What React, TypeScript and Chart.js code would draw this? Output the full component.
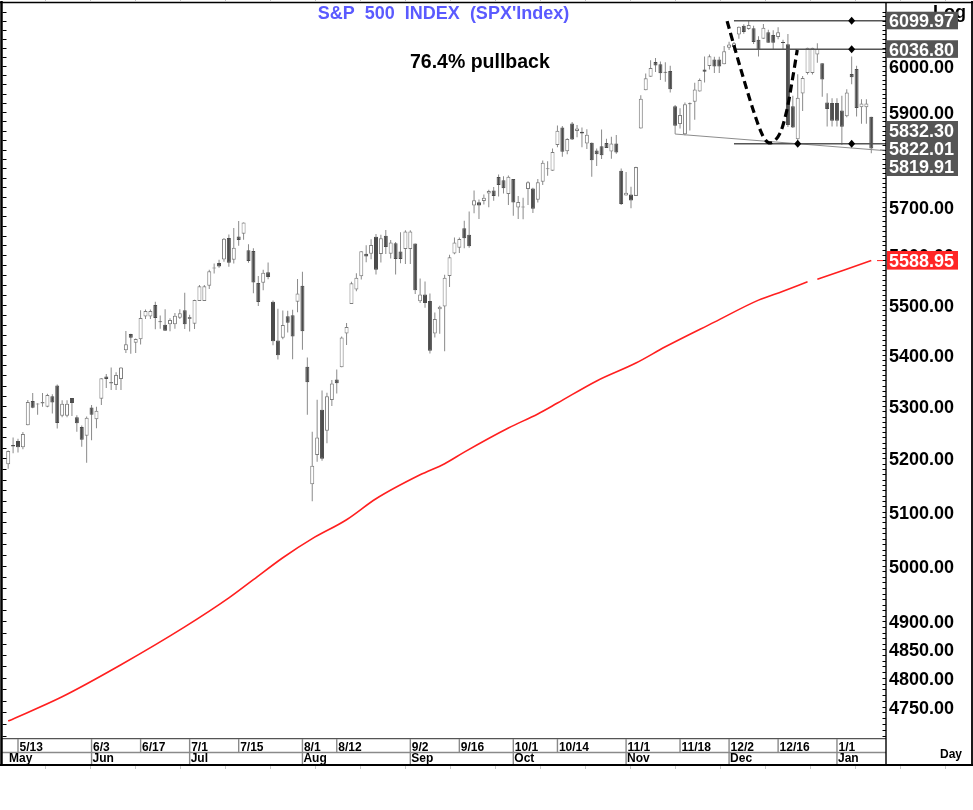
import React, { useEffect, useRef } from 'react';
import { Chart, registerables } from 'chart.js';

Chart.register(...registerables);

const W = 973;
const H = 810;
const FONT = '"Liberation Sans", Arial, Helvetica, sans-serif';

// Every weekday from 9 May 2024 to 10 Jan 2025 (holiday slots repeat the prior candle, as drawn)
const firstSession = new Date(2024, 4, 9);

const opens = [
  5189.0, 5225.5, 5233.1, 5221.1, 5263.3, 5310.1, 5303.1, 5305.4, 5298.7, 5319.3, 5340.3, 5281.5, 5281.5, 5315.9, 5278.7, 5259.8, 5243.2,
  5297.2, 5275.0, 5314.5, 5357.8, 5343.8, 5341.2, 5353.0, 5409.1, 5441.1, 5424.1, 5431.1, 5476.2, 5476.2, 5499.0, 5466.8, 5459.6, 5460.7, 5460.7, 5473.6, 5488.5,
  5471.1, 5461.8, 5507.4, 5507.4, 5537.9, 5572.8, 5584.2, 5591.3, 5635.2, 5590.8, 5638.2, 5644.1, 5610.1, 5608.6, 5543.4, 5544.1, 5565.3, 5505.8, 5428.7, 5433.7, 5476.6, 5478.7, 5505.6,
  5537.8, 5376.6, 5151.1, 5206.4, 5293.1, 5252.6, 5312.0, 5351.9, 5376.0, 5442.1, 5501.3, 5530.5, 5557.2, 5602.9, 5603.1, 5637.8, 5602.6, 5639.7, 5602.9, 5624.5, 5607.3, 5612.7,
  5612.7, 5623.9, 5506.7, 5520.1, 5507.3, 5442.1, 5490.5, 5496.4, 5557.5, 5603.3, 5615.2, 5655.5, 5641.7, 5702.6, 5709.0, 5711.9, 5727.2, 5733.6, 5762.2, 5755.4, 5726.5,
  5757.7, 5698.0, 5698.2, 5737.0, 5737.8, 5714.6, 5751.8, 5778.4, 5775.1, 5829.8, 5866.7, 5816.6, 5875.6, 5859.4, 5857.8, 5832.7, 5834.5, 5817.8, 5826.8, 5833.9, 5816.0, 5832.7, 5775.3,
  5723.2, 5725.2, 5722.4, 5864.9, 5947.2, 5976.8, 6008.9, 6003.6, 5985.8, 5989.0, 5912.8, 5874.2, 5852.7, 5917.3, 5922.1, 5944.4, 5992.3, 6000.0, 6014.1, 6014.1, 6004.0,
  6040.1, 6042.0, 6069.4, 6089.0, 6081.4, 6083.0, 6057.6, 6060.2, 6074.3, 6068.2, 6063.8, 6052.6, 6047.7, 5912.7, 5842.0, 5940.3, 5984.7, 5984.7, 6025.0, 6006.2, 5920.7, 5919.7,
  5919.7, 5903.3, 5891.1, 5982.8, 5993.3, 5910.7, 5910.7, 5890.0,
];

const highs = [
  5215.0, 5239.7, 5237.3, 5250.4, 5311.8, 5325.5, 5305.5, 5325.3, 5324.3, 5323.2, 5341.9, 5311.6, 5311.6, 5315.9, 5282.3, 5263.0, 5280.3,
  5302.1, 5298.8, 5354.2, 5362.4, 5375.1, 5365.8, 5375.9, 5447.3, 5441.9, 5432.4, 5488.5, 5490.4, 5490.4, 5505.5, 5478.3, 5490.8, 5472.9, 5483.1, 5490.8, 5523.6,
  5479.6, 5509.7, 5539.3, 5539.3, 5570.3, 5583.1, 5590.8, 5635.4, 5642.5, 5655.6, 5670.4, 5667.3, 5622.5, 5614.1, 5557.5, 5570.3, 5585.3, 5508.0, 5491.6, 5488.4, 5487.7, 5489.5, 5551.4,
  5566.2, 5395.0, 5250.9, 5312.3, 5330.6, 5326.1, 5351.0, 5371.2, 5436.5, 5463.2, 5546.2, 5563.1, 5608.3, 5620.5, 5632.7, 5643.2, 5641.8, 5651.6, 5631.2, 5627.0, 5646.9, 5651.4,
  5651.4, 5623.9, 5552.7, 5546.3, 5522.5, 5484.2, 5497.9, 5560.4, 5600.7, 5636.3, 5636.1, 5670.8, 5689.8, 5733.6, 5715.1, 5725.4, 5735.3, 5741.0, 5767.4, 5763.8, 5765.1,
  5757.7, 5722.4, 5718.8, 5753.0, 5739.3, 5757.6, 5796.8, 5795.0, 5822.1, 5871.4, 5870.4, 5844.0, 5878.5, 5872.2, 5866.9, 5863.0, 5834.9, 5822.1, 5862.8, 5842.9, 5847.2, 5850.9, 5780.0,
  5772.5, 5741.4, 5783.4, 5936.1, 5983.8, 6012.5, 6017.3, 6009.9, 6008.2, 6000.6, 5915.3, 5908.1, 5920.7, 5920.7, 5963.4, 5972.9, 6020.8, 6025.4, 6020.2, 6020.2, 6044.2,
  6053.6, 6052.7, 6087.2, 6092.0, 6099.97, 6088.5, 6065.4, 6092.6, 6079.7, 6078.6, 6085.2, 6057.7, 6070.7, 5935.5, 5982.1, 5978.3, 6040.1, 6040.1, 6049.8, 6006.2, 5940.8, 5929.7,
  5929.7, 5935.1, 5949.3, 6021.0, 6000.7, 5927.9, 5927.9, 5890.0,
];

const lows = [
  5180.4, 5209.7, 5211.2, 5217.2, 5263.3, 5296.2, 5283.6, 5298.9, 5297.9, 5286.0, 5256.9, 5278.4, 5278.4, 5280.9, 5250.6, 5222.1, 5191.7,
  5234.3, 5257.6, 5302.4, 5335.4, 5331.3, 5331.5, 5331.3, 5403.7, 5402.5, 5403.8, 5420.4, 5471.3, 5471.3, 5451.0, 5452.0, 5447.6, 5446.6, 5451.9, 5471.3, 5451.1,
  5446.5, 5451.1, 5507.4, 5507.4, 5531.6, 5562.5, 5574.6, 5586.4, 5576.5, 5583.1, 5619.5, 5631.6, 5584.8, 5522.8, 5497.0, 5529.0, 5550.9, 5419.0, 5390.9, 5430.7, 5444.4, 5391.4, 5484.7,
  5410.4, 5283.4, 5119.3, 5193.6, 5195.5, 5228.6, 5300.1, 5324.4, 5376.0, 5419.7, 5501.3, 5526.6, 5550.7, 5585.5, 5591.6, 5560.9, 5585.2, 5602.3, 5593.5, 5560.9, 5583.7, 5581.8,
  5581.8, 5521.5, 5503.4, 5493.8, 5402.6, 5434.5, 5441.7, 5407.0, 5535.5, 5601.9, 5604.5, 5614.1, 5615.1, 5686.4, 5674.5, 5704.6, 5698.8, 5712.1, 5721.0, 5727.3, 5703.5,
  5681.3, 5674.5, 5673.8, 5703.5, 5686.9, 5708.4, 5745.0, 5764.8, 5775.1, 5824.8, 5804.5, 5809.9, 5840.3, 5846.1, 5824.8, 5821.2, 5762.4, 5784.9, 5800.0, 5823.1, 5800.6, 5811.3, 5703.2,
  5723.2, 5696.5, 5722.1, 5864.9, 5947.2, 5976.8, 5986.7, 5969.3, 5965.9, 5942.5, 5853.0, 5865.0, 5850.5, 5860.4, 5883.5, 5944.4, 5963.9, 5992.3, 5984.9, 5984.9, 6004.0,
  6035.3, 6033.4, 6060.0, 6070.9, 6080.0, 6048.6, 6020.8, 6060.2, 6051.3, 6035.8, 6059.1, 6035.2, 5867.8, 5866.1, 5832.3, 5902.6, 5981.4, 5981.4, 6007.4, 5933.0, 5869.2, 5868.9,
  5868.9, 5829.5, 5888.7, 5960.0, 5890.7, 5874.8, 5874.8, 5812.0,
];

const closes = [
  5214.1, 5222.7, 5221.4, 5246.7, 5308.2, 5297.1, 5303.3, 5308.1, 5321.4, 5307.0, 5267.8, 5304.7, 5304.7, 5306.0, 5267.0, 5235.5, 5277.5,
  5283.4, 5291.3, 5354.0, 5353.0, 5347.0, 5360.8, 5375.3, 5421.0, 5433.7, 5431.6, 5473.2, 5487.0, 5487.0, 5473.2, 5464.6, 5447.9, 5469.3, 5477.9, 5482.9, 5460.5,
  5475.1, 5509.0, 5537.0, 5537.0, 5567.2, 5572.9, 5577.0, 5633.9, 5584.5, 5615.4, 5631.2, 5667.2, 5588.3, 5544.6, 5505.0, 5564.4, 5555.7, 5427.1, 5399.2, 5459.1, 5463.5, 5436.4, 5522.3,
  5446.7, 5346.6, 5186.3, 5240.0, 5199.5, 5319.3, 5344.2, 5344.4, 5434.4, 5455.2, 5543.2, 5554.3, 5608.3, 5597.1, 5620.9, 5570.6, 5634.6, 5616.8, 5625.8, 5592.2, 5592.0, 5648.4,
  5648.4, 5528.9, 5520.1, 5503.4, 5408.4, 5471.1, 5495.5, 5554.1, 5595.8, 5626.0, 5633.1, 5634.6, 5618.3, 5713.6, 5702.6, 5718.6, 5732.9, 5722.3, 5745.4, 5738.2, 5762.5,
  5708.8, 5709.5, 5699.9, 5751.1, 5695.9, 5751.1, 5792.0, 5780.1, 5815.0, 5859.9, 5815.3, 5842.5, 5841.5, 5864.7, 5854.0, 5851.2, 5797.4, 5809.9, 5808.1, 5823.5, 5833.0, 5813.7, 5705.5,
  5728.8, 5712.7, 5782.8, 5929.0, 5973.1, 5995.5, 6001.4, 5984.0, 5985.4, 5949.2, 5870.6, 5893.6, 5917.0, 5917.1, 5948.7, 5969.3, 5987.4, 6021.6, 5998.7, 5998.7, 6032.4,
  6047.2, 6049.9, 6086.5, 6075.1, 6090.3, 6052.9, 6034.9, 6084.2, 6051.3, 6051.1, 6074.1, 6050.6, 5872.2, 5867.1, 5930.9, 5974.1, 6040.0, 6040.0, 6037.6, 5970.8, 5906.9, 5881.6,
  5881.6, 5868.6, 5942.5, 5975.4, 5909.0, 5918.3, 5918.3, 5822.0,
];

// 200-day moving average (red); null = gap at 12/25
const maSlots = [0, 11, 23, 36, 45, 50, 56, 62, 69, 75, 84, 89, 93, 102, 108, 112, 120, 128, 134, 144, 153, 158, 163, 164, 165, 176];
const maValues = [4725, 4767, 4823, 4890, 4942, 4975, 5015, 5050, 5085, 5124, 5169, 5190, 5212, 5258, 5285, 5306, 5349, 5384, 5416, 5465, 5509, 5527, 5546, null, 5551, 5588.95];

const priceTicks = [4750, 4800, 4850, 4900, 5000, 5100, 5200, 5300, 5400, 5500, 5600, 5700, 5800, 5900, 6000];
const dateTickLabels = ['5/13', '6/3', '6/17', '7/1', '7/15', '8/1', '8/12', '9/2', '9/16', '10/1', '10/14', '11/1', '11/18', '12/2', '12/16', '1/1'];
const monthLabels = ['May', 'Jun', 'Jul', 'Aug', 'Sep', 'Oct', 'Nov', 'Dec', 'Jan'];
const monthStartDates = ['', '6/3', '7/1', '8/1', '9/2', '10/1', '11/1', '12/2', '1/1'];

// Annotations
const levelValues = [6099.97, 6036.8, 5832.3];
const levelStartDate = '12/3';
const levelMarkerDates = [['1/6'], ['1/6'], ['12/20', '1/6']];
const trendDates = ['11/15', '1/10'];
const trendValues = [5853.0, 5819.91];
const cupSlots = [146.6, 149.2, 151.9, 153.9, 155.5, 157.4, 158.8, 159.8, 160.9];
const cupValues = [6099, 6000, 5905, 5849, 5834, 5855, 5905, 5963, 6035];
const stackLabels = ['5832.30', '5822.01', '5819.91'];
const maLabel = '5588.95';
const titleText = "S&P  500  INDEX  (SPX'Index)";
const noteText = '76.4% pullback';

const sessionDates: string[] = (() => {
  const out: string[] = [];
  const d = new Date(firstSession);
  while (out.length < opens.length) {
    const wd = d.getDay();
    if (wd !== 0 && wd !== 6) out.push(`${d.getMonth() + 1}/${d.getDate()}`);
    d.setDate(d.getDate() + 1);
  }
  return out;
})();
const slotOf = (label: string) => sessionDates.indexOf(label);

function smoothPath(c: CanvasRenderingContext2D, pts: { x: number; y: number }[]) {
  c.moveTo(pts[0].x, pts[0].y);
  for (let i = 0; i < pts.length - 1; i++) {
    const p0 = pts[i - 1] || pts[i];
    const p1 = pts[i];
    const p2 = pts[i + 1];
    const p3 = pts[i + 2] || p2;
    c.bezierCurveTo(
      p1.x + (p2.x - p0.x) / 6, p1.y + (p2.y - p0.y) / 6,
      p2.x - (p3.x - p1.x) / 6, p2.y - (p3.y - p1.y) / 6,
      p2.x, p2.y,
    );
  }
}

function seg(c: CanvasRenderingContext2D, x1: number, y1: number, x2: number, y2: number) {
  c.beginPath();
  c.moveTo(x1, y1);
  c.lineTo(x2, y2);
  c.stroke();
}

const overlay = {
  id: 'overlay',
  beforeDraw(chart: any) {
    const c = chart.ctx;
    c.save();
    c.fillStyle = '#ffffff';
    c.fillRect(0, 0, chart.width, chart.height);
    c.restore();
  },
  afterDatasetsDraw(chart: any) {
    const c: CanvasRenderingContext2D = chart.ctx;
    const ca = chart.chartArea;
    const X = (s: number) => chart.scales.x.getPixelForValue(s);
    const Y = (v: number) => chart.scales.y.getPixelForValue(v);
    c.save();
    c.beginPath();
    c.rect(ca.left, ca.top, ca.right - ca.left, ca.bottom - ca.top);
    c.clip();

    // support trendline
    const x0 = X(slotOf(trendDates[0]));
    const y0 = Y(trendValues[0]);
    const x1 = X(slotOf(trendDates[1]));
    const y1 = Y(trendValues[1]);
    const ye = y0 + ((y1 - y0) * (ca.right - x0)) / (x1 - x0);
    c.strokeStyle = '#8c8c8c';
    c.lineWidth = 1;
    seg(c, x0, y0, ca.right, ye);

    // horizontal levels
    c.strokeStyle = '#555555';
    c.lineWidth = 1.6;
    levelValues.forEach((v, k) => {
      const y = Y(v);
      seg(c, X(slotOf(levelStartDate)), y, ca.right, y);
      levelMarkerDates[k].forEach((d) => {
        const mx = X(slotOf(d));
        c.fillStyle = '#000';
        c.beginPath();
        c.moveTo(mx, y - 4);
        c.lineTo(mx + 3.5, y);
        c.lineTo(mx, y + 4);
        c.lineTo(mx - 3.5, y);
        c.closePath();
        c.fill();
      });
    });

    // dashed cup
    const pts = cupSlots.map((s, i) => ({ x: X(s), y: Y(cupValues[i]) }));
    c.strokeStyle = '#000';
    c.lineWidth = 3.2;
    c.setLineDash([8, 4.5]);
    c.beginPath();
    smoothPath(c, pts);
    c.stroke();
    c.setLineDash([]);
    c.restore();
  },
  afterDraw(chart: any) {
    const c: CanvasRenderingContext2D = chart.ctx;
    const ca = chart.chartArea;
    const X = (s: number) => chart.scales.x.getPixelForValue(s);
    const Y = (v: number) => chart.scales.y.getPixelForValue(v);
    c.save();

    // title + note
    c.font = `bold 18px ${FONT}`;
    c.fillStyle = '#5a5aff';
    c.textAlign = 'center';
    c.textBaseline = 'middle';
    c.fillText(titleText, 443.5, 14);
    c.font = `bold 19.5px ${FONT}`;
    c.fillStyle = '#000';
    c.textAlign = 'left';
    c.textBaseline = 'alphabetic';
    c.fillText(noteText, 410, 68);

    // minor ticks
    c.strokeStyle = '#000';
    c.lineWidth = 1;
    for (let v = 4700; v <= 6130; v += 10) {
      const y = Math.round(Y(v)) + 0.5;
      if (y < ca.top || y > ca.bottom) continue;
      seg(c, 882.5, y, 886, y);
      if (v % 20 === 0) seg(c, 2.5, y, 6.5, y);
    }

    // x axis rows
    const rowMid = 752.5;
    const rowBot = 765;
    c.strokeStyle = '#555';
    c.lineWidth = 1.3;
    seg(c, 2, ca.bottom + 0.7, ca.right, ca.bottom + 0.7);
    c.strokeStyle = '#8a8a8a';
    c.lineWidth = 1.4;
    seg(c, 2, rowMid, ca.right, rowMid);
    c.font = `bold 12px ${FONT}`;
    c.fillStyle = '#000';
    c.textAlign = 'left';
    c.textBaseline = 'alphabetic';
    dateTickLabels.forEach((lab) => {
      const x = X(slotOf(lab));
      seg(c, x, ca.bottom + 1, x, rowMid);
      c.fillText(lab, x + 1.5, 750.5);
    });
    monthLabels.forEach((lab, k) => {
      const d = monthStartDates[k];
      if (!d) {
        c.fillText(lab, 9, 762);
      } else {
        const x = X(slotOf(d));
        seg(c, x, rowMid, x, rowBot);
        c.fillText(lab, x + 1, 762);
      }
    });
    c.fillText('Day', 940, 758);

    // frame
    c.strokeStyle = '#000';
    c.lineWidth = 1.4;
    seg(c, 886, 2.5, 886, rowBot);
    c.lineWidth = 2.5;
    seg(c, 1.5, 1, 1.5, 766);
    c.lineWidth = 1.6;
    seg(c, 0, 2.5, 973, 2.5);
    c.lineWidth = 2;
    seg(c, 0, 765, 973, 765);
    c.lineWidth = 1.8;
    seg(c, 972, 1, 972, 766);
    c.strokeStyle = '#c4c4c4';
    c.lineWidth = 1;
    for (let k = 1; k * 45 < 972; k++) {
      const x = k * 45 + 0.5;
      seg(c, x, 0, x, 1.7);
      seg(c, x, 766.2, x, 769);
    }

    // right side flags
    c.font = `bold 18px ${FONT}`;
    c.fillStyle = '#000';
    c.textAlign = 'left';
    c.textBaseline = 'alphabetic';
    c.fillText('Log', 933, 18);
    c.textBaseline = 'middle';
    const box = (top: number, h: number, color: string, labels: string[], centers: number[]) => {
      c.fillStyle = color;
      c.fillRect(887, top, 71, h);
      c.fillStyle = '#ffffff';
      labels.forEach((t, i) => c.fillText(t, 889, centers[i]));
    };
    const yA = Y(levelValues[0]);
    box(yA - 9, 17.6, '#555555', [levelValues[0].toFixed(2)], [yA + 1.8]);
    const yB = Y(levelValues[1]);
    box(yB - 9, 17.6, '#555555', [levelValues[1].toFixed(2)], [yB + 1.8]);
    box(121, 55, '#555555', stackLabels, [132.5, 150.5, 168.3]);
    const yR = Y(5588.95);
    box(yR - 9.6, 18.6, '#ff2626', [maLabel], [yR + 1.5]);

    // small pointers at the axis
    c.strokeStyle = '#ff2020';
    c.lineWidth = 1;
    seg(c, 877, yR, 883, yR);
    c.strokeStyle = '#8c8c8c';
    seg(c, 880, 150, 885, 150);
    c.restore();
  },
};

export default function App() {
  const ref = useRef<HTMLCanvasElement>(null);

  useEffect(() => {
    const canvas = ref.current;
    if (!canvas) return;
    const slots = opens.map((_, i) => i);
    const isUp = (i: number) => closes[i] >= opens[i];

    const chart = new Chart(canvas, {
      type: 'bar',
      data: {
        datasets: [
          {
            type: 'bar',
            label: 'body',
            data: slots.map((i) => ({ x: i, y: [opens[i], closes[i]] })) as any,
            backgroundColor: (ctx: any) => (isUp(ctx.dataIndex) ? '#ffffff' : '#4b4b4b'),
            borderColor: (ctx: any) => (isUp(ctx.dataIndex) ? '#7d7d7d' : '#4b4b4b'),
            borderWidth: 1,
            borderSkipped: false,
            barThickness: 4,
            minBarLength: 1,
            inflateAmount: 0,
            grouped: false,
            order: 0,
          } as any,
          {
            type: 'bar',
            label: 'wick',
            data: slots.map((i) => ({ x: i, y: [lows[i], highs[i]] })) as any,
            backgroundColor: '#8a8a8a',
            borderWidth: 0,
            barThickness: 1,
            inflateAmount: 0,
            grouped: false,
            order: 1,
          } as any,
          {
            type: 'line',
            label: '200d MA',
            data: maSlots.map((s, i) => ({ x: s, y: maValues[i] })) as any,
            borderColor: '#ff1f1f',
            borderWidth: 1.6,
            pointRadius: 0,
            cubicInterpolationMode: 'monotone',
            spanGaps: false,
            fill: false,
            order: 2,
          } as any,
        ],
      },
      options: {
        responsive: false,
        animation: false,
        devicePixelRatio: 1,
        events: [],
        layout: { padding: { left: 5, top: 8, right: 0, bottom: 72 } },
        plugins: {
          legend: { display: false },
          tooltip: { enabled: false },
          title: { display: false },
        },
        scales: {
          x: {
            type: 'linear',
            min: -0.65,
            max: 179.0,
            bounds: 'data',
            offset: false,
            display: false,
          },
          y: {
            type: 'logarithmic',
            position: 'right',
            min: 4695.9,
            max: 6128.3,
            bounds: 'data',
            afterBuildTicks: (s: any) => {
              s.ticks = priceTicks.map((v) => ({ value: v }));
            },
            afterFit: (s: any) => {
              s.width = 87;
              s.paddingTop = 0;
              s.paddingBottom = 0;
            },
            grid: { display: false, drawTicks: false },
            border: { display: false },
            ticks: {
              autoSkip: false,
              padding: 3,
              labelOffset: 2,
              color: '#000',
              font: { family: FONT, size: 18, weight: 'bold' },
              callback: (v: any) => Number(v).toFixed(2),
            },
          },
        } as any,
      },
      plugins: [overlay],
    });
    return () => chart.destroy();
  }, []);

  return (
    <div style={{ position: 'fixed', left: 0, top: 0, width: W, height: H, background: '#fff' }}>
      <canvas ref={ref} width={W} height={H} style={{ display: 'block', width: W, height: H }} />
    </div>
  );
}
